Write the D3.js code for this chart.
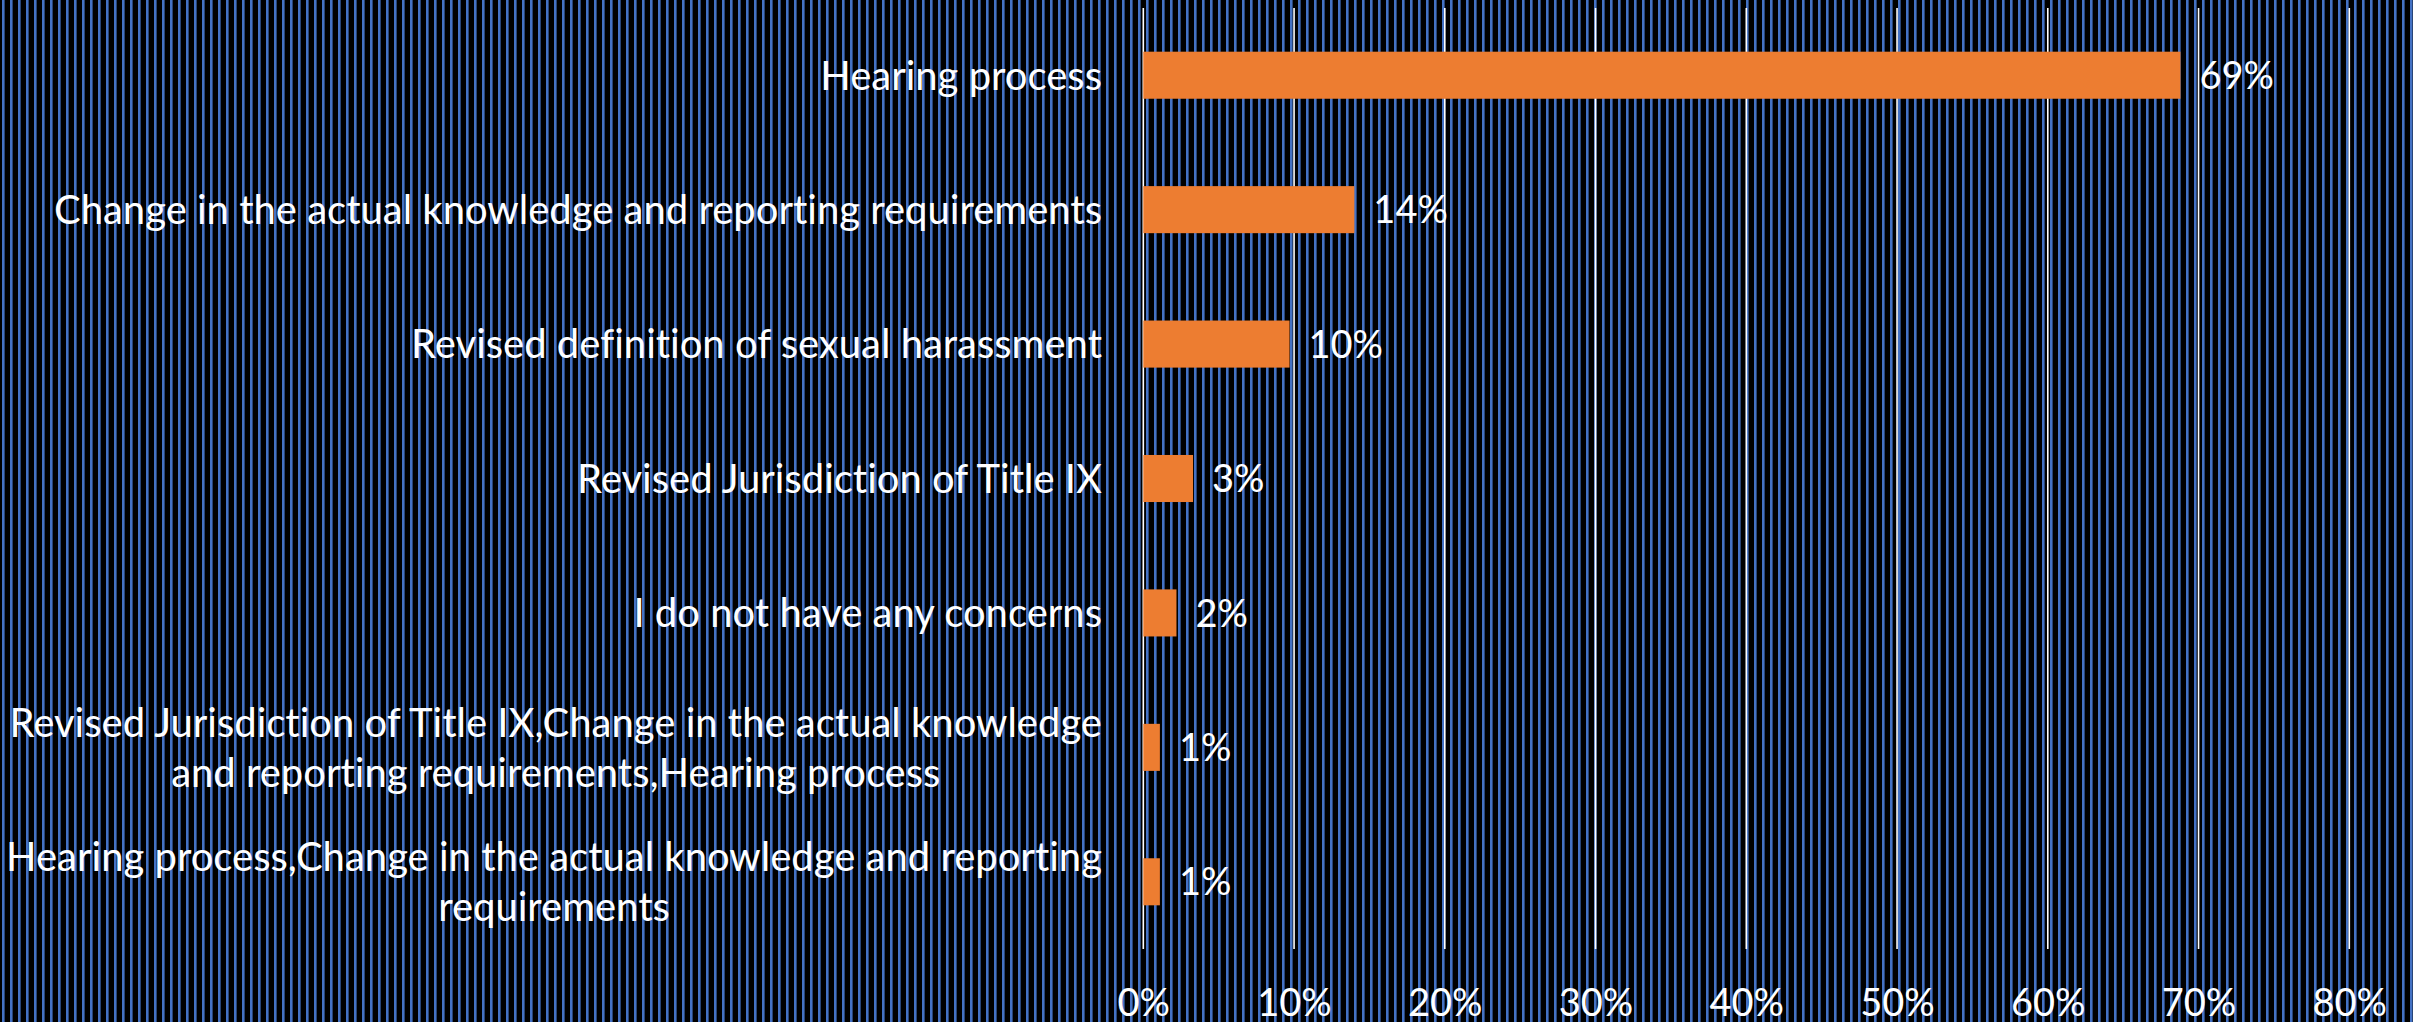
<!DOCTYPE html>
<html>
<head>
<meta charset="utf-8">
<script src="https://cdn.jsdelivr.net/npm/d3@7"></script>
<style>
  html, body { margin: 0; padding: 0; background: #000; }
  svg { display: block; }
  text { font-family: Lato, "Open Sans", sans-serif; fill: #fff; font-variant-ligatures: none; }
</style>
</head>
<body>
<svg width="2413" height="1022"></svg>
<script>
// data
var categories = [
    "Hearing process",
    "Change in the actual knowledge and reporting requirements",
    "Revised definition of sexual harassment",
    "Revised Jurisdiction of Title IX",
    "I do not have any concerns",
    "Revised Jurisdiction of Title IX,Change in the actual knowledge|and reporting requirements,Hearing process",
    "Hearing process,Change in the actual knowledge and reporting|requirements"
];
var values = [0.688, 0.140, 0.097, 0.033, 0.022, 0.011, 0.011];
var valueLabels = ["69%", "14%", "10%", "3%", "2%", "1%", "1%"];
var ticks = [0, 0.1, 0.2, 0.3, 0.4, 0.5, 0.6, 0.7, 0.8];

var svg = d3.select("svg");
var W = +svg.attr("width"), H = +svg.attr("height");

// striped background
var defs = svg.append("defs");
var pat = defs.append("pattern")
    .attr("id", "stripes")
    .attr("patternUnits", "userSpaceOnUse")
    .attr("width", 8).attr("height", 8);
pat.append("rect").attr("width", 8).attr("height", 8).attr("fill", "#000");
pat.append("rect").attr("x", 2).attr("width", 2.6).attr("height", 8).attr("fill", "#4472C4");

svg.append("rect").attr("width", W).attr("height", H).attr("fill", "url(#stripes)");

var plot = {left: 1143.3, right: 2349.3, top: 8, bottom: 949};

var x = d3.scaleLinear().domain([0, 0.8]).range([plot.left, plot.right]);
var y = d3.scaleBand()
    .domain(categories)
    .range([plot.top, plot.bottom])
    .paddingInner(0.65)
    .paddingOuter(0.325);

// gridlines
svg.append("g").selectAll("line")
    .data(ticks)
    .enter().append("line")
    .attr("x1", function(d) { return x(d); })
    .attr("x2", function(d) { return x(d); })
    .attr("y1", plot.top)
    .attr("y2", plot.bottom)
    .attr("stroke", "#fff")
    .attr("stroke-width", 1.6);

// x axis labels
var xAxis = svg.append("g")
    .attr("transform", "translate(0," + plot.bottom + ")")
    .call(d3.axisBottom(x).tickValues(ticks).tickFormat(d3.format(".0%")).tickSize(0).tickPadding(0));
xAxis.select(".domain").remove();
xAxis.selectAll("text")
    .attr("y", 67).attr("dy", null)
    .attr("fill", "#fff")
    .style("font-size", "38px")
    .style("font-family", "Lato, 'Open Sans', sans-serif");

// bars
svg.append("g").selectAll("rect")
    .data(values)
    .enter().append("rect")
    .attr("x", x(0))
    .attr("y", function(d, i) { return y(categories[i]); })
    .attr("width", function(d) { return x(d) - x(0); })
    .attr("height", y.bandwidth())
    .attr("fill", "#ED7D31");

// value labels
svg.append("g").selectAll("text")
    .data(values)
    .enter().append("text")
    .attr("x", function(d) { return x(d) + 19; })
    .attr("y", function(d, i) { return y(categories[i]) + y.bandwidth() / 2; })
    .attr("dy", "0.36em")
    .style("font-size", "38px")
    .text(function(d, i) { return valueLabels[i]; });

// category labels (right aligned block, lines centred inside it)
var labelRight = 1102, lineH = 50;
categories.forEach(function(c) {
    var lines = c.split("|");
    var cy = y(c) + y.bandwidth() / 2;
    var g = svg.append("g");
    var texts = lines.map(function(l, j) {
        return g.append("text")
            .attr("y", cy + (j - (lines.length - 1) / 2) * lineH)
            .attr("dy", "0.36em")
            .style("font-size", "40px")
            .text(l);
    });
    var maxW = d3.max(texts, function(t) { return t.node().getComputedTextLength(); });
    texts.forEach(function(t) {
        t.attr("text-anchor", "middle").attr("x", labelRight - maxW / 2);
    });
});
</script>
</body>
</html>
